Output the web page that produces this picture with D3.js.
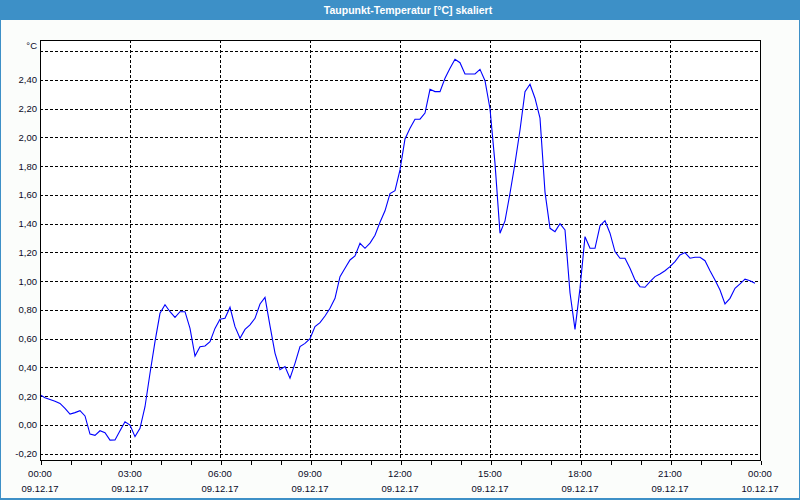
<!DOCTYPE html>
<html>
<head>
<meta charset="utf-8">
<script src="https://cdn.jsdelivr.net/npm/d3@7"></script>
<style>
  html, body { margin: 0; padding: 0; background: #fff; }
  svg { display: block; }
  text { font-family: "Liberation Sans", Arial, sans-serif; }
</style>
</head>
<body>
<svg id="chart" width="800" height="500"></svg>
<script>
// ---- data ----
const chartTitle = "Taupunkt-Temperatur [°C] skaliert";
const unitLabel = "°C";
const startTime = new Date(2017, 11, 9, 0, 0);
const endTime = new Date(2017, 11, 10, 0, 0);
const stepMinutes = 10;
const dewPoint = [
  0.21, 0.19, 0.178, 0.165, 0.15, 0.115, 0.076, 0.086, 0.10, 0.063,
  -0.063, -0.072, -0.04, -0.053, -0.105, -0.104, -0.04, 0.023, 0.0, -0.081,
  -0.023, 0.127, 0.36, 0.58, 0.777, 0.837, 0.788, 0.749, 0.788, 0.788,
  0.672, 0.48, 0.545, 0.55, 0.58, 0.672, 0.735, 0.742, 0.819, 0.684,
  0.603, 0.665, 0.696, 0.742, 0.842, 0.888, 0.69, 0.50, 0.385, 0.406,
  0.325, 0.429, 0.545, 0.568, 0.60, 0.684, 0.712, 0.758, 0.812, 0.881,
  1.032, 1.09, 1.148, 1.176, 1.264, 1.229, 1.265, 1.32, 1.41, 1.49,
  1.61, 1.63, 1.774, 1.99, 2.064, 2.127, 2.127, 2.17, 2.335, 2.319,
  2.319, 2.412, 2.481, 2.544, 2.52, 2.442, 2.442, 2.442, 2.474, 2.395,
  2.20, 1.82, 1.334, 1.42, 1.612, 1.82, 2.052, 2.319, 2.37, 2.273,
  2.134, 1.62, 1.368, 1.345, 1.40, 1.357, 0.92, 0.665, 0.95, 1.31,
  1.229, 1.229, 1.385, 1.421, 1.334, 1.206, 1.16, 1.16, 1.09, 1.009,
  0.962, 0.958, 0.997, 1.032, 1.05, 1.073, 1.101, 1.136, 1.183, 1.199,
  1.16, 1.167, 1.167, 1.143, 1.073, 1.009, 0.939, 0.842, 0.881, 0.951,
  0.981, 1.014, 1.004, 0.986
];
const yGridValues = [-0.2, 0, 0.2, 0.4, 0.6, 0.8, 1.0, 1.2, 1.4, 1.6, 1.8, 2.0, 2.2, 2.4, 2.6];
const yLabelValues = [-0.2, 0, 0.2, 0.4, 0.6, 0.8, 1.0, 1.2, 1.4, 1.6, 1.8, 2.0, 2.2, 2.4];
const yDomain = [-0.2435, 2.678];

// ---- layout ----
const W = 800, H = 500;
const plot = { left: 40, top: 40, right: 760, bottom: 460 };
const titleBarH = 20;
const frameColor = "#3d90c7";

const svg = d3.select("#chart");

// window frame
svg.append("rect").attr("x", 0).attr("y", 0).attr("width", W).attr("height", H).attr("fill", frameColor);
svg.append("rect").attr("x", 1).attr("y", titleBarH).attr("width", W - 2).attr("height", H - titleBarH - 2).attr("fill", "#fbfdfb");
svg.append("text")
  .attr("x", 408).attr("y", 13.5)
  .attr("text-anchor", "middle")
  .attr("fill", "#ffffff")
  .attr("font-size", "10.5px")
  .attr("font-weight", "bold")
  .text(chartTitle);

// plot background
svg.append("rect")
  .attr("x", plot.left).attr("y", plot.top)
  .attr("width", plot.right - plot.left).attr("height", plot.bottom - plot.top)
  .attr("fill", "#ffffff");

// scales
const x = d3.scaleTime().domain([startTime, endTime]).range([plot.left, plot.right]);
const y = d3.scaleLinear().domain(yDomain).range([plot.bottom, plot.top]);

const data = dewPoint.map((v, i) => ({ t: d3.timeMinute.offset(startTime, i * stepMinutes), v }));

const px = v => Math.round(v) + 0.5;

// horizontal grid
svg.append("g").selectAll("line").data(yGridValues).join("line")
  .attr("x1", plot.left).attr("x2", plot.right)
  .attr("y1", d => px(y(d))).attr("y2", d => px(y(d)))
  .attr("stroke", "#000").attr("stroke-width", 1)
  .attr("stroke-dasharray", "3,2")
  .attr("shape-rendering", "crispEdges");

// vertical grid every 3 hours
const majorTicks = d3.timeHour.every(3).range(startTime, d3.timeMinute.offset(endTime, 1));
svg.append("g").selectAll("line").data(majorTicks.filter(t => +t > +startTime && +t < +endTime)).join("line")
  .attr("x1", d => px(x(d))).attr("x2", d => px(x(d)))
  .attr("y1", plot.top).attr("y2", plot.bottom)
  .attr("stroke", "#000").attr("stroke-width", 1)
  .attr("stroke-dasharray", "3,2")
  .attr("shape-rendering", "crispEdges");

// data line
const line = d3.line().x(d => x(d.t)).y(d => y(d.v));
svg.append("path")
  .datum(data)
  .attr("d", line)
  .attr("fill", "none")
  .attr("stroke", "#0000ff")
  .attr("stroke-width", 1.1);

// plot frame
svg.append("rect")
  .attr("x", plot.left + 0.5).attr("y", plot.top + 0.5)
  .attr("width", plot.right - plot.left).attr("height", plot.bottom - plot.top)
  .attr("fill", "none").attr("stroke", "#000").attr("stroke-width", 1)
  .attr("shape-rendering", "crispEdges");

// bottom axis: hourly ticks, 3-hour labels
const xAxis = d3.axisBottom(x)
  .ticks(d3.timeHour.every(1))
  .tickSize(4)
  .tickFormat("");
const gx = svg.append("g").attr("transform", `translate(0.5,${plot.bottom + 0.5})`).call(xAxis);
gx.select(".domain").remove();
gx.selectAll("line").attr("stroke", "#000").attr("shape-rendering", "crispEdges");

const fmtTime = d3.timeFormat("%H:%M");
const fmtDate = d3.timeFormat("%d.%m.%y");
const labels = svg.append("g").selectAll("g").data(majorTicks).join("g")
  .attr("transform", d => `translate(${x(d)},0)`);
labels.append("text").attr("y", 477).attr("text-anchor", "middle")
  .attr("font-size", "9.5px").attr("fill", "#0a0a28").text(d => fmtTime(d));
labels.append("text").attr("y", 491.5).attr("text-anchor", "middle")
  .attr("font-size", "9.5px").attr("fill", "#0a0a28").text(d => fmtDate(d));

// left labels
const fmtY = v => d3.format(".2f")(v).replace(".", ",").replace("−", "-");
svg.append("g").selectAll("text").data(yLabelValues).join("text")
  .attr("x", 37).attr("y", d => y(d) + 3.5)
  .attr("text-anchor", "end")
  .attr("font-size", "9.5px").attr("fill", "#0a0a28")
  .text(d => fmtY(d));

svg.append("text")
  .attr("x", 37).attr("y", 49)
  .attr("text-anchor", "end")
  .attr("font-size", "9.5px").attr("fill", "#0a0a28")
  .text(unitLabel);
</script>
</body>
</html>
